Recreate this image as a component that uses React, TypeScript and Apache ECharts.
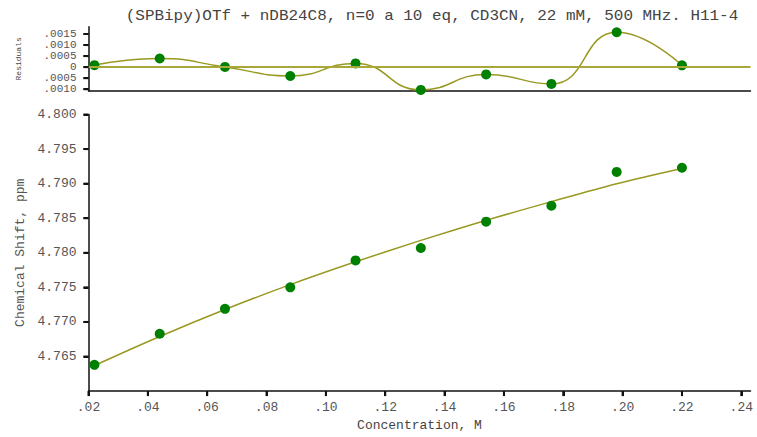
import React, { useEffect, useRef } from "react";
import * as echarts from "echarts";

// ---- data ----
const concentration = [0.022, 0.044, 0.066, 0.088, 0.11, 0.132, 0.154, 0.176, 0.198, 0.22];
const shiftObserved = [4.7638, 4.7683, 4.7719, 4.775, 4.7789, 4.7807, 4.7845, 4.7868, 4.7917, 4.7923];
const shiftFitted = [4.7637, 4.7679, 4.7718, 4.7754, 4.7787, 4.7818, 4.7847, 4.7874, 4.79, 4.7922];
const residuals = [0.00009, 0.00039, 0.00001, -0.0004, 0.00017, -0.00103, -0.00033, -0.00076, 0.00158, 0.00008];

const xTicks = [0.02, 0.04, 0.06, 0.08, 0.1, 0.12, 0.14, 0.16, 0.18, 0.2, 0.22, 0.24];
const shiftTicks = [4.765, 4.77, 4.775, 4.78, 4.785, 4.79, 4.795, 4.8];
const residualTicks = [-0.001, -0.0005, 0, 0.0005, 0.001, 0.0015];

const titleText = "(SPBipy)OTf + nDB24C8, n=0 a 10 eq, CD3CN, 22 mM, 500 MHz. H11-4";

const MONO = "'Liberation Mono', 'Courier New', monospace";
const AXIS_COLOR = "#111";
const LABEL_COLOR = "#555";
const OLIVE = "#999922";
const GREEN = "#008000";

export default function App() {
  const ref = useRef<HTMLDivElement>(null);

  useEffect(() => {
    if (!ref.current) return;
    const chart = echarts.init(ref.current, undefined, { renderer: "svg" });

    const axisLine = { show: true, onZero: false, lineStyle: { color: AXIS_COLOR, width: 1.5 } };
    const tickStyle = { show: true, inside: false, length: 5, lineStyle: { color: AXIS_COLOR, width: 2 } };

    const obsPairs = concentration.map((c, i) => [c, shiftObserved[i]]);
    const fitPairs = concentration.map((c, i) => [c, shiftFitted[i]]);
    const resPairs = concentration.map((c, i) => [c, residuals[i]]);

    const xMin = 0.02;
    const shiftMin = 4.76;

    // tick marks as small rects placed through the axes' own scales
    const tickSeries = (
      xi: number,
      yi: number,
      data: number[][],
      size: number[],
      offset: number[]
    ) => ({
      type: "scatter",
      xAxisIndex: xi,
      yAxisIndex: yi,
      data,
      symbol: "rect",
      symbolSize: size,
      symbolOffset: offset,
      clip: false,
      silent: true,
      itemStyle: { color: AXIS_COLOR, opacity: 1 },
      z: 5,
    });

    chart.setOption({
      animation: false,
      backgroundColor: "#fff",
      graphic: [
        {
          type: "text",
          x: 432,
          y: 17,
          scaleX: 1.14,
          style: {
            text: titleText,
            align: "center",
            verticalAlign: "middle",
            font: `14px ${MONO}`,
            fill: "#444",
          },
        },
      ],
      grid: [
        { left: 88.5, right: 6.5, top: 26.7, height: 64.3 },
        { left: 88.5, right: 6.5, top: 114.5, height: 283.8 },
      ],
      xAxis: [
        {
          type: "value",
          gridIndex: 0,
          min: xMin,
          max: 0.2431,
          interval: 0.02,
          axisLine,
          axisTick: { show: false },
          axisLabel: { show: false },
          splitLine: { show: false },
        },
        {
          type: "value",
          gridIndex: 1,
          min: xMin,
          max: 0.2431,
          interval: 0.02,
          name: "Concentration, M",
          nameLocation: "middle",
          nameGap: 27,
          nameTextStyle: { fontFamily: MONO, fontSize: 13, color: "#444" },
          axisLine,
          axisTick: { ...tickStyle, customValues: xTicks },
          axisLabel: {
            customValues: xTicks,
            interval: 0,
            hideOverlap: false,
            showMinLabel: true,
            showMaxLabel: true,
            margin: 10,
            fontFamily: MONO,
            fontSize: 13,
            color: LABEL_COLOR,
            formatter: (v: number) => v.toFixed(2).replace(/^0/, ""),
          },
          splitLine: { show: false },
        },
      ],
      yAxis: [
        {
          type: "value",
          gridIndex: 0,
          min: -0.00108,
          max: 0.00183,
          interval: 0.0005,
          name: "Residuals",
          nameLocation: "middle",
          nameGap: 66,
          nameTextStyle: { fontFamily: MONO, fontSize: 8, color: "#444" },
          axisLine,
          axisTick: { ...tickStyle, customValues: residualTicks },
          axisLabel: {
            customValues: residualTicks,
            interval: 0,
            hideOverlap: false,
            showMinLabel: true,
            showMaxLabel: true,
            margin: 12,
            fontFamily: MONO,
            fontSize: 11,
            lineHeight: 9,
            color: LABEL_COLOR,
            formatter: (v: number) =>
              Math.abs(v) < 1e-9 ? "0" : Math.abs(v).toFixed(4).replace(/^0/, ""),
          },
          splitLine: { show: false },
        },
        {
          type: "value",
          gridIndex: 1,
          min: shiftMin,
          max: 4.8,
          interval: 0.005,
          name: "Chemical Shift, ppm",
          nameLocation: "middle",
          nameGap: 60,
          nameTextStyle: { fontFamily: MONO, fontSize: 13, color: "#555" },
          axisLine,
          axisTick: { ...tickStyle, customValues: shiftTicks },
          axisLabel: {
            customValues: shiftTicks,
            interval: 0,
            hideOverlap: false,
            showMinLabel: true,
            showMaxLabel: true,
            margin: 12,
            fontFamily: MONO,
            fontSize: 13,
            color: LABEL_COLOR,
            formatter: (v: number) => v.toFixed(3),
          },
          splitLine: { show: false },
        },
      ],
      series: [
        tickSeries(1, 1, xTicks.map((v) => [v, shiftMin]), [2, 5], [0, 2.5]),
        tickSeries(1, 1, shiftTicks.map((v) => [xMin, v]), [5, 2], [-2.5, 0]),
        tickSeries(0, 0, residualTicks.map((v) => [xMin, v]), [5, 2], [-2.5, 0]),
        {
          type: "line",
          xAxisIndex: 0,
          yAxisIndex: 0,
          data: resPairs,
          smooth: 0.5,
          showSymbol: false,
          symbol: "none",
          lineStyle: { color: OLIVE, width: 1.5 },
          markLine: {
            silent: true,
            symbol: "none",
            label: { show: false },
            lineStyle: { color: "#a8a83a", width: 2, type: "solid" },
            data: [{ yAxis: 0 }],
          },
          z: 2,
        },
        {
          type: "scatter",
          xAxisIndex: 0,
          yAxisIndex: 0,
          data: resPairs,
          symbol: "circle",
          symbolSize: 10,
          itemStyle: { color: GREEN, opacity: 1 },
          z: 3,
        },
        {
          type: "line",
          xAxisIndex: 1,
          yAxisIndex: 1,
          data: fitPairs,
          smooth: 0.3,
          showSymbol: false,
          symbol: "none",
          lineStyle: { color: OLIVE, width: 1.5 },
          z: 2,
        },
        {
          type: "scatter",
          xAxisIndex: 1,
          yAxisIndex: 1,
          data: obsPairs,
          symbol: "circle",
          symbolSize: 10,
          itemStyle: { color: GREEN, opacity: 1 },
          z: 3,
        },
      ],
    });

    return () => chart.dispose();
  }, []);

  return (
    <div
      ref={ref}
      style={{ position: "fixed", left: 0, top: 0, width: 757, height: 437, background: "#fff" }}
    />
  );
}
